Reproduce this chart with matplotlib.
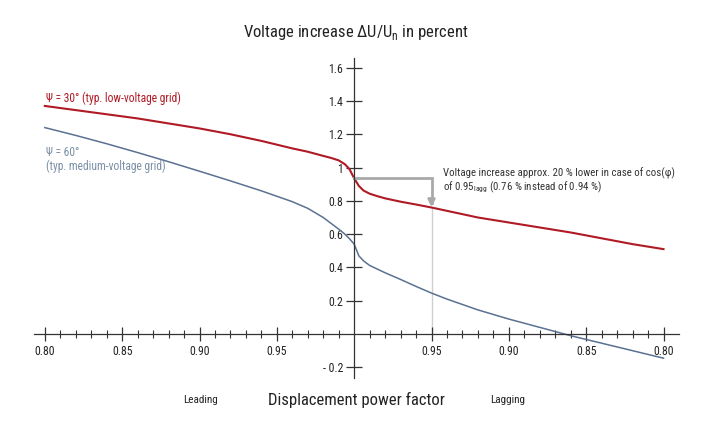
import matplotlib
matplotlib.use("Agg")
import matplotlib.pyplot as plt
from matplotlib import font_manager

# power factor readings, leading side (left) and lagging side (right)
pf_lead = [0.80, 0.82, 0.84, 0.86, 0.88, 0.90, 0.92, 0.94, 0.96, 0.97, 0.98, 0.985, 0.99, 0.994, 0.997, 1.00]
red_lead = [1.37, 1.345, 1.32, 1.295, 1.265, 1.235, 1.20, 1.16, 1.115, 1.095, 1.07, 1.058, 1.043, 1.02, 0.99, 0.935]
blue_lead = [1.24, 1.193, 1.143, 1.09, 1.035, 0.978, 0.92, 0.86, 0.795, 0.755, 0.70, 0.665, 0.63, 0.60, 0.572, 0.54]

pf_lag = [1.00, 0.997, 0.994, 0.99, 0.985, 0.98, 0.97, 0.96, 0.95, 0.94, 0.92, 0.90, 0.88, 0.86, 0.84, 0.82, 0.80]
red_lag = [0.935, 0.89, 0.862, 0.843, 0.828, 0.815, 0.795, 0.778, 0.76, 0.74, 0.70, 0.67, 0.64, 0.61, 0.575, 0.54, 0.51]
blue_lag = [0.54, 0.47, 0.44, 0.412, 0.39, 0.368, 0.328, 0.286, 0.246, 0.21, 0.145, 0.09, 0.04, -0.01, -0.055, -0.10, -0.145]

x_major = [-0.20, -0.15, -0.10, -0.05, 0.05, 0.10, 0.15, 0.20]
x_labels = ["0.80", "0.85", "0.90", "0.95", "0.95", "0.90", "0.85", "0.80"]
y_ticks = [-0.2, 0.2, 0.4, 0.6, 0.8, 1.0, 1.2, 1.4, 1.6]
y_labels = ["- 0.2", "0.2", "0.4", "0.6", "0.8", "1", "1.2", "1.4", "1.6"]

RED = "#b01a24"
BLUE = "#5a7191"
BLUE_TXT = "#7b8fa6"
AXIS = "#333333"
GREY = "#a9a9a9"

# pick a narrow sans if there is one
names = {f.name for f in font_manager.fontManager.ttflist}
fam = "DejaVu Sans"
for cand in ["Liberation Sans Narrow", "Roboto Condensed", "Lato", "Liberation Sans"]:
    if cand in names:
        fam = cand
        break
plt.rcParams["font.family"] = [fam, "DejaVu Sans"]


def pos(pf, side):
    # leading to the left of 1, lagging to the right
    return [side * (1 - p) for p in pf]


W, H = 712, 432
fig = plt.figure(figsize=(W / 100, H / 100), dpi=100)
ax = fig.add_axes([34 / W, (H - 378) / H, 645 / W, 320 / H])
ax.set_xlim(-0.207, 0.210)
ax.set_ylim(-0.264, 1.658)

xs = pos(pf_lead, -1) + pos(pf_lag, 1)[1:]
ax.plot(xs, red_lead + red_lag[1:], color=RED, lw=1.5)
ax.plot(xs, blue_lead + blue_lag[1:], color=BLUE, lw=1.1)

# bracket for cos(phi) = 0.95 lagging
x95 = 1 - 0.95
ax.plot([x95, x95], [0, red_lag[pf_lag.index(0.95)]], color="#cfcfcf", lw=1.0, zorder=1)
ax.plot([0, x95, x95], [0.94, 0.94, 0.79], color=GREY, lw=2.0, solid_joinstyle="miter")
ax.annotate("", xy=(x95, 0.762), xytext=(x95, 0.80),
            arrowprops=dict(arrowstyle="-|>", color=GREY, lw=2.0, mutation_scale=10,
                            shrinkA=0, shrinkB=0))

for s in ["top", "right"]:
    ax.spines[s].set_visible(False)
ax.spines["left"].set_position(("data", 0))
ax.spines["bottom"].set_position(("data", 0))
for s in ["left", "bottom"]:
    ax.spines[s].set_color(AXIS)
    ax.spines[s].set_linewidth(0.9)

ax.set_xticks(x_major, x_labels)
ax.set_xticks([k / 100 for k in range(-20, 21) if k % 5 != 0], minor=True)
ax.set_yticks(y_ticks, y_labels)
ax.tick_params(axis="x", which="major", direction="inout", length=10, width=0.9,
               color=AXIS, labelsize=8.5, pad=3, labelcolor="#222222")
ax.tick_params(axis="x", which="minor", direction="inout", length=6, width=0.8, color=AXIS)
ax.tick_params(axis="y", direction="inout", length=12, width=0.9, color=AXIS,
               labelsize=8.5, pad=2, labelcolor="#222222")
ax.patch.set_alpha(0)


def ftext(x, y, s, **kw):
    fig.text(x / W, 1 - y / H, s, **kw)


ftext(356, 32, r"Voltage increase ΔU/U$_\mathregular{n}$ in percent", ha="center", va="center",
      fontsize=12, color="#222222")
ftext(356, 400, "Displacement power factor", ha="center", va="center", fontsize=12, color="#222222")
ftext(201, 400, "Leading", ha="center", va="center", fontsize=8, color="#222222")
ftext(508, 400, "Lagging", ha="center", va="center", fontsize=8, color="#222222")

ftext(46, 98, "Ψ = 30° (typ. low-voltage grid)", ha="left", va="center", fontsize=8.3, color=RED)
ftext(46, 152, "Ψ = 60°", ha="left", va="center", fontsize=8.3, color=BLUE_TXT)
ftext(46, 166, "(typ. medium-voltage grid)", ha="left", va="center", fontsize=8.3, color=BLUE_TXT)

ftext(443, 173, "Voltage increase approx. 20 % lower in case of cos(φ)", ha="left", va="center",
      fontsize=7.8, color="#333333")
ftext(443, 187, r"of 0.95$_\mathregular{lagg}$ (0.76 % instead of 0.94 %)", ha="left", va="center",
      fontsize=7.8, color="#333333")

fig.savefig("out.png", dpi=100, facecolor="white")
